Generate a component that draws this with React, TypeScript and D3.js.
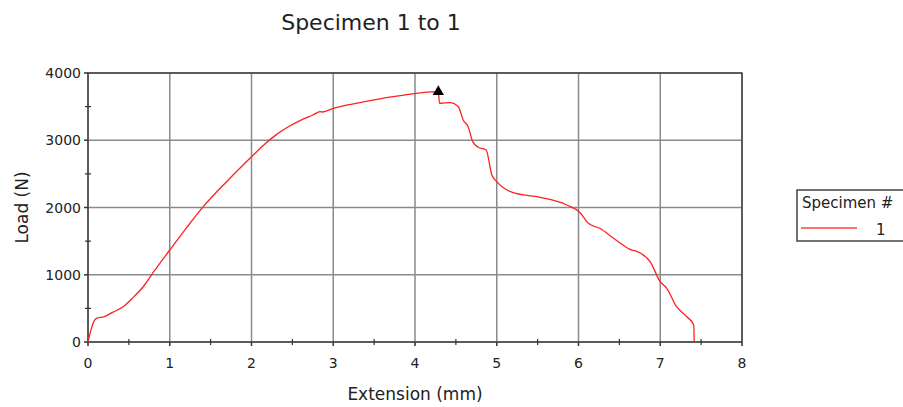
import React from "react";
import * as d3 from "d3";

const extension = [
  0, 0.03, 0.07, 0.104, 0.2, 0.3, 0.43, 0.55, 0.675, 0.8, 1.0, 1.2, 1.41, 1.695, 2.0,
  2.15, 2.3, 2.45, 2.6, 2.75, 2.84, 2.87, 3.0, 3.33, 3.73, 4.02, 4.285, 4.3, 4.315, 4.43,
  4.53, 4.59, 4.65, 4.706, 4.775, 4.87, 4.94, 5.0, 5.2, 5.53, 5.857, 6.02, 6.12, 6.26,
  6.43, 6.63, 6.75, 6.876, 7.0, 7.08, 7.2, 7.325, 7.41, 7.415,
];
const load = [
  0, 150, 300, 352, 376, 440, 525, 660, 822, 1040, 1368, 1690, 2012, 2384, 2755,
  2930, 3080, 3200, 3295, 3375, 3425, 3420, 3475, 3559, 3648, 3698, 3722, 3550, 3550, 3559,
  3499, 3301, 3202, 2979, 2895, 2855, 2483, 2384, 2220, 2151, 2037, 1923, 1765, 1691,
  1542, 1378, 1328, 1194, 897, 798, 525, 376, 253, 0,
];
const peakIndex = 26;

const xTicks = [0, 1, 2, 3, 4, 5, 6, 7, 8];
const yTicks = [0, 1000, 2000, 3000, 4000];
const xMinor = [0.5, 1.5, 2.5, 3.5, 4.5, 5.5, 6.5, 7.5];
const yMinor = [500, 1500, 2500, 3500];

const title = "Specimen 1 to 1";
const xLabel = "Extension (mm)";
const yLabel = "Load (N)";
const legendTitle = "Specimen #";
const seriesName = "1";

export default function App() {
  const W = 903;
  const H = 407;
  const left = 88;
  const right = 742;
  const top = 73;
  const bottom = 342;
  const x = d3.scaleLinear().domain([0, 8]).range([left, right]);
  const y = d3.scaleLinear().domain([0, 4000]).range([bottom, top]);
  const pts: [number, number][] = extension.map((e, i) => [e, load[i]]);
  const line = d3
    .line<[number, number]>()
    .x((d) => x(d[0]))
    .y((d) => y(d[1]))
    .curve(d3.curveMonotoneX);
  const tri = d3.symbol().type(d3.symbolTriangle).size(55)();
  const font = "'DejaVu Sans', Verdana, sans-serif";
  const grid = "#8a8a8a";

  return (
    <svg
      width={W}
      height={H}
      style={{ position: "absolute", left: 0, top: 0, background: "#fff" }}
      fontFamily={font}
    >
      <rect x={0} y={0} width={W} height={H} fill="#fff" />
      <text x={371} y={30} fontSize={22} textAnchor="middle" fill="#222">
        {title}
      </text>
      {xTicks.map((t) => (
        <line key={"gx" + t} x1={x(t)} x2={x(t)} y1={top} y2={bottom + 4} stroke={grid} strokeWidth={1.5} />
      ))}
      {yTicks.map((t) => (
        <line key={"gy" + t} x1={left - 4} x2={right} y1={y(t)} y2={y(t)} stroke={grid} strokeWidth={1.5} />
      ))}
      {xMinor.map((t) => (
        <line key={"mx" + t} x1={x(t)} x2={x(t)} y1={bottom - 3} y2={bottom + 3} stroke="#333" strokeWidth={1.2} />
      ))}
      {yMinor.map((t) => (
        <line key={"my" + t} x1={left - 3} x2={left + 3} y1={y(t)} y2={y(t)} stroke="#333" strokeWidth={1.2} />
      ))}
      <rect x={left} y={top} width={right - left} height={bottom - top} fill="none" stroke="#333" strokeWidth={1.3} />
      {xTicks.map((t) => (
        <line key={"tx" + t} x1={x(t)} x2={x(t)} y1={bottom} y2={bottom + 4} stroke="#333" strokeWidth={1.2} />
      ))}
      {yTicks.map((t) => (
        <line key={"ty" + t} x1={left - 4} x2={left} y1={y(t)} y2={y(t)} stroke="#333" strokeWidth={1.2} />
      ))}
      {xTicks.map((t) => (
        <text key={"lx" + t} x={x(t)} y={368} fontSize={14} textAnchor="middle" fill="#222">
          {t}
        </text>
      ))}
      {yTicks.map((t) => (
        <text key={"ly" + t} x={left - 7} y={y(t) + 5} fontSize={14} textAnchor="end" fill="#222">
          {t}
        </text>
      ))}
      <text x={415} y={400} fontSize={17} textAnchor="middle" fill="#222">
        {xLabel}
      </text>
      <text
        transform={`translate(28, ${(top + bottom) / 2}) rotate(-90)`}
        fontSize={17}
        textAnchor="middle"
        fill="#222"
      >
        {yLabel}
      </text>
      <path d={line(pts) || ""} fill="none" stroke="#ff2020" strokeWidth={1.3} />
      <path
        d={tri}
        transform={`translate(${x(extension[peakIndex])}, ${y(load[peakIndex])})`}
        fill="#000"
      />
      <rect x={797} y={190} width={120} height={51} fill="#fff" stroke="#444" strokeWidth={1.5} />
      <text x={802} y={208} fontSize={15} fill="#222">
        {legendTitle}
      </text>
      <line x1={801} x2={857} y1={228} y2={228} stroke="#ff7070" strokeWidth={2} />
      <text x={876} y={235} fontSize={15} fill="#222">
        {seriesName}
      </text>
    </svg>
  );
}
